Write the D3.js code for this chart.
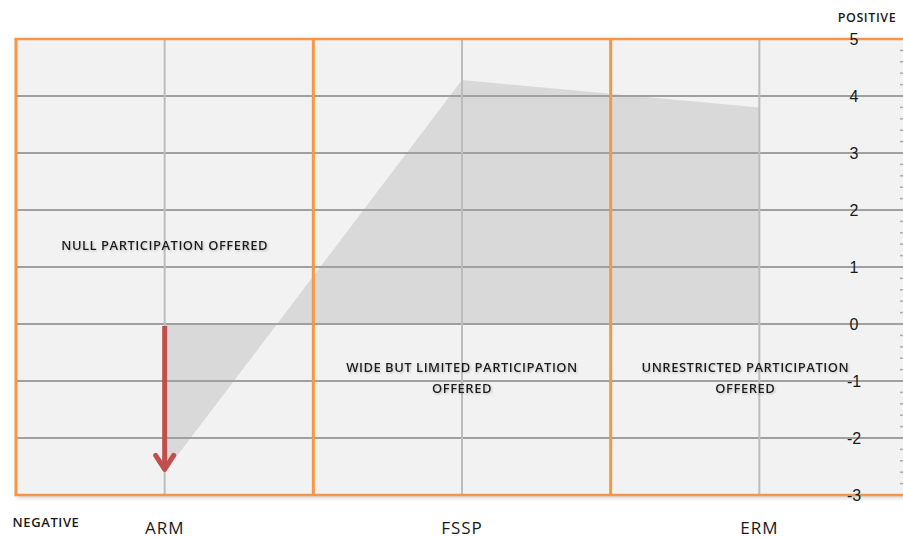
<!DOCTYPE html>
<html>
<head>
<meta charset="utf-8">
<script src="https://cdn.jsdelivr.net/npm/d3@7"></script>
<style>
  html, body { margin: 0; padding: 0; background: #fff; }
  svg { display: block; font-family: "Open Sans", "Liberation Sans", sans-serif; }
</style>
</head>
<body>
<div id="chart"></div>
<script>
// Participation chart: shaded area per mechanism, right-hand value axis.
const categories = ['ARM', 'FSSP', 'ERM'];
const values = [-2.6, 4.28, 3.8];
const yTicks = [-3, -2, -1, 0, 1, 2, 3, 4, 5];
const bandNotes = [
  ['NULL PARTICIPATION OFFERED'],
  ['WIDE BUT LIMITED PARTICIPATION', 'OFFERED'],
  ['UNRESTRICTED PARTICIPATION', 'OFFERED']
];
const noteValues = [1.3, -0.84, -0.84];
const noteShift = [0, 0, -14];
const arrowFrom = 0, arrowTo = -2.55;

const W = 903, H = 538;
const ORANGE = '#f79646';

const svg = d3.select('#chart').append('svg')
  .attr('width', W).attr('height', H);

const defs = svg.append('defs');
const shadow = defs.append('filter').attr('id', 'shadow')
  .attr('x', '-5%').attr('y', '-5%').attr('width', '110%').attr('height', '110%');
shadow.append('feDropShadow').attr('dx', 1).attr('dy', 2).attr('stdDeviation', 2.5)
  .attr('flood-color', '#000').attr('flood-opacity', 0.25);
const glow = defs.append('filter').attr('id', 'glow');
glow.append('feDropShadow').attr('dx', 1).attr('dy', 1).attr('stdDeviation', 1)
  .attr('flood-color', '#888').attr('flood-opacity', 0.5);

const x = d3.scaleBand().domain(categories).range([16, 908]);
const y = d3.scaleLinear().domain([-3, 5]).range([495, 39]);
const cx = d => x(d) + x.bandwidth() / 2;

// plot background
svg.append('rect')
  .attr('x', x.range()[0]).attr('y', y(5))
  .attr('width', x.range()[1] - x.range()[0]).attr('height', y(-3) - y(5))
  .attr('fill', '#f2f2f2')
  .attr('filter', 'url(#shadow)');

// area
const area = d3.area()
  .x((d, i) => cx(categories[i]))
  .y0(y(0))
  .y1(d => y(d));
svg.append('path').datum(values)
  .attr('d', area)
  .attr('fill', '#d9d9d9');

// horizontal gridlines
svg.append('g').selectAll('line')
  .data(yTicks.filter(t => t !== 5 && t !== -3))
  .join('line')
  .attr('x1', x.range()[0]).attr('x2', W)
  .attr('y1', d => y(d)).attr('y2', d => y(d))
  .attr('stroke', '#a0a0a0').attr('stroke-width', 2);

// vertical gridlines at categories
svg.append('g').selectAll('line')
  .data(categories)
  .join('line')
  .attr('x1', d => cx(d)).attr('x2', d => cx(d))
  .attr('y1', y(5)).attr('y2', y(-3))
  .attr('stroke', '#bdbdbd').attr('stroke-width', 2);

// orange band frame
svg.append('g').selectAll('line')
  .data(categories)
  .join('line')
  .attr('x1', d => x(d)).attr('x2', d => x(d))
  .attr('y1', y(5)).attr('y2', y(-3))
  .attr('stroke', ORANGE).attr('stroke-width', 3);
[5, -3].forEach(v => {
  svg.append('line')
    .attr('x1', x.range()[0] - 1.5).attr('x2', W)
    .attr('y1', y(v)).attr('y2', y(v))
    .attr('stroke', ORANGE).attr('stroke-width', 2.5);
});

// right value axis
const axis = d3.axisRight(y).tickValues(yTicks).tickSize(0).tickPadding(0)
  .tickFormat(d => d < 0 ? '-' + Math.abs(d) : String(d));
const ag = svg.append('g').attr('transform', `translate(854,0)`).call(axis);
ag.select('.domain').remove();
ag.selectAll('text')
  .attr('text-anchor', 'middle').attr('dy', '0.35em')
  .attr('fill', '#1a1a1a').style('font-size', '16px');

// minor ticks on the axis edge
const minor = d3.range(-3, 5.001, 0.2).filter(v => Math.abs(v - Math.round(v)) > 0.01);
svg.append('g').selectAll('line')
  .data(minor)
  .join('line')
  .attr('x1', 900).attr('x2', 903)
  .attr('y1', d => y(d)).attr('y2', d => y(d))
  .attr('stroke', '#aaa').attr('stroke-width', 1.5);

// arrow on ARM
const ax = cx('ARM');
svg.append('line')
  .attr('x1', ax).attr('x2', ax)
  .attr('y1', y(arrowFrom) + 2).attr('y2', y(arrowTo))
  .attr('stroke', '#c0504d').attr('stroke-width', 5);
svg.append('path')
  .attr('d', `M${ax - 9},${y(arrowTo) - 14} L${ax},${y(arrowTo)} L${ax + 9},${y(arrowTo) - 14}`)
  .attr('fill', 'none').attr('stroke', '#c0504d').attr('stroke-width', 5)
  .attr('stroke-linecap', 'round').attr('stroke-linejoin', 'round');

// band notes
bandNotes.forEach((lines, i) => {
  const nx = cx(categories[i]) + noteShift[i];
  const t = svg.append('text')
    .attr('x', nx)
    .attr('y', y(noteValues[i]))
    .attr('text-anchor', 'middle')
    .attr('fill', '#1a1a1a')
    .style('font-size', '13px').style('font-weight', 600)
    .style('letter-spacing', '0.5px')
    .attr('filter', 'url(#glow)');
  lines.forEach((s, j) => {
    t.append('tspan')
      .attr('x', nx)
      .attr('dy', j === 0 ? 0 : 21)
      .text(s);
  });
});

// category labels
svg.append('g').selectAll('text')
  .data(categories)
  .join('text')
  .attr('x', d => cx(d)).attr('y', 534)
  .attr('text-anchor', 'middle')
  .attr('fill', '#1a1a1a').style('font-size', '17px').style('font-weight', 500)
  .style('letter-spacing', '1px')
  .text(d => d);

svg.append('text').attr('x', 867).attr('y', 22).attr('text-anchor', 'middle')
  .attr('fill', '#1a1a1a').style('font-size', '12.5px').style('font-weight', 600)
  .style('letter-spacing', '0.6px').text('POSITIVE');
svg.append('text').attr('x', 46).attr('y', 527).attr('text-anchor', 'middle')
  .attr('fill', '#1a1a1a').style('font-size', '13px').style('font-weight', 600)
  .style('letter-spacing', '0.6px').text('NEGATIVE');
</script>
</body>
</html>
